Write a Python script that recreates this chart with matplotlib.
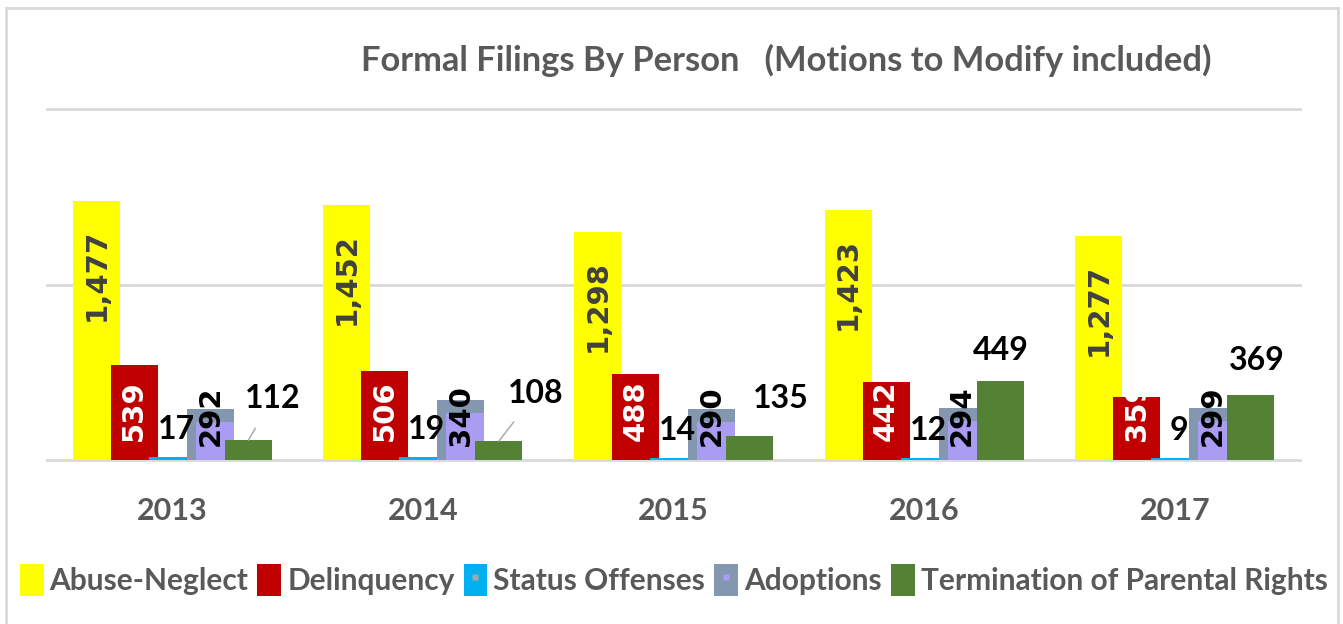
import matplotlib
matplotlib.use("Agg")
import matplotlib.pyplot as plt
from matplotlib.patches import Patch
from matplotlib.lines import Line2D
from matplotlib.legend_handler import HandlerTuple
import numpy as np

years = ["2013", "2014", "2015", "2016", "2017"]
series = ["Abuse-Neglect", "Delinquency", "Status Offenses", "Adoptions",
          "Termination of Parental Rights"]
abuse_neglect = [1477, 1452, 1298, 1423, 1277]
delinquency = [539, 506, 488, 442, 359]
status_offenses = [17, 19, 14, 12, 9]
adoptions = [292, 340, 290, 294, 299]
termination = [112, 108, 135, 449, 369]

colors = ["#FFFF00", "#C00000", "#00B0F0", "#8497B0", "#548235"]
inner_purple = "#A99CF2"
title = "Formal Filings By Person   (Motions to Modify included)"

NARROW = ["Lato", "DejaVu Sans"]
WIDE = ["DejaVu Sans"]
TXT = "#595959"

W, H = 1343, 624
fig = plt.figure(figsize=(W / 100, H / 100), dpi=100)
ax_left, ax_bottom, ax_w, ax_h = 47, 164, 1253, 351
ax = fig.add_axes([ax_left / W, ax_bottom / H, ax_w / W, ax_h / H])
ax.set_xlim(-0.5, 4.5)
ax.set_ylim(0, 2000)
px_per_unit = ax_h / 2000.0
px_per_cat = ax_w / 5.0

for s in ax.spines.values():
    s.set_visible(False)
ax.set_yticks([])
for yv in [0, 1000, 2000]:
    ax.axhline(yv, color="#D9D9D9", lw=2, zorder=0, clip_on=False)

x = np.arange(len(years))
bw = 47 / px_per_cat
step = 38 / px_per_cat
data = [abuse_neglect, delinquency, status_offenses, adoptions, termination]
bars = []
for i, (vals, c) in enumerate(zip(data, colors)):
    b = ax.bar(x + (i - 2) * step, vals, width=bw, color=c, zorder=2 + i,
               linewidth=0)
    bars.append(b)
    if i == 3:
        # lighter inner rectangle seen inside the Adoptions bars
        inset_x = 9 / px_per_cat
        inset_y = 13 / px_per_unit
        ax.bar(x + (i - 2) * step + inset_x / 2, np.array(vals) - inset_y,
               width=bw - inset_x, color=inner_purple, zorder=2 + i + 0.5,
               linewidth=0)

# x labels
ax.set_xticks(x)
ax.set_xticklabels(years, fontsize=22, fontweight="bold", color=TXT,
                   family=NARROW)
ax.tick_params(axis="x", length=0, pad=27)

# Abuse-Neglect labels: rotated, inside near top
for xi, v in zip(x - 2 * step, abuse_neglect):
    ax.annotate(f"{v:,}", xy=(xi, v), xytext=(0, -28), textcoords="offset pixels",
                rotation=90, ha="center", va="top", fontsize=21,
                fontweight="bold", color="#404040", family=WIDE, zorder=20)

# Delinquency labels: rotated white, clipped by bar
for xi, v, rect in zip(x - step, delinquency, bars[1]):
    t = ax.annotate(f"{v:,}", xy=(xi, 0), xytext=(0, 19),
                    textcoords="offset pixels", rotation=90, ha="center",
                    va="bottom", fontsize=21, fontweight="bold", color="white",
                    family=WIDE, zorder=20)
    t.set_clip_path(rect)

# Status offenses labels
for xi, v in zip(x, status_offenses):
    ax.annotate(f"{v:,}", xy=(xi, v), xytext=(4, 13), textcoords="offset pixels",
                ha="center", va="bottom", fontsize=23, fontweight="bold",
                color="black", family=NARROW, zorder=20)

# Adoptions labels
for xi, v in zip(x + step, adoptions):
    ax.annotate(f"{v:,}", xy=(xi, 0), xytext=(0, 14), textcoords="offset pixels",
                rotation=90, ha="center", va="bottom", fontsize=21,
                fontweight="bold", color="black", family=WIDE, zorder=20)

# Termination labels with manual placement offsets (pixels)
term_offsets = [(24, 27), (37, 33), (31, 23), (1, 16), (6, 20)]
term_leader = [True, True, False, False, False]
for xi, v, (dx, dy), lead in zip(x + 2 * step, termination, term_offsets,
                                 term_leader):
    kw = {}
    if lead:
        kw["arrowprops"] = dict(arrowstyle="-", color="#A6A6A6", lw=1,
                                shrinkA=10, shrinkB=0)
    ax.annotate(f"{v:,}", xy=(xi, v), xytext=(dx, dy),
                textcoords="offset pixels", ha="center", va="bottom",
                fontsize=23, fontweight="bold", color="black", family=NARROW,
                zorder=20, **kw)

# Title
fig.text(786 / W, 1 - 60 / H, title, ha="center", va="center", fontsize=24.8,
         fontweight="bold", color=TXT, family=NARROW)

# Legend
handles = [
    Patch(facecolor=colors[0]),
    Patch(facecolor=colors[1]),
    (Patch(facecolor=colors[2]),
     Line2D([], [], marker="s", color="none", markerfacecolor="#A6A6A6",
            markeredgecolor="none", markersize=5)),
    (Patch(facecolor=colors[3]),
     Line2D([], [], marker="s", color="none", markerfacecolor="#A99CF2",
            markeredgecolor="none", markersize=5)),
    Patch(facecolor=colors[4]),
]
leg = fig.legend(handles, series, loc="center", bbox_to_anchor=(673.5 / W, 1 - 580 / H),
                 ncol=5, frameon=False, handlelength=0.8, handleheight=1.3,
                 handletextpad=0.2, columnspacing=0.3, borderpad=0.1,
                 handler_map={tuple: HandlerTuple(ndivide=1)},
                 prop={"family": NARROW, "weight": "bold", "size": 21.5})
for t in leg.get_texts():
    t.set_color(TXT)

# outer border
border_kw = dict(color="#D9D9D9", lw=2, transform=fig.transFigure)
fig.add_artist(Line2D([6 / W, 6 / W], [0, 1 - 8 / H], **border_kw))
fig.add_artist(Line2D([6 / W, 1338 / W], [1 - 8 / H, 1 - 8 / H], **border_kw))
fig.add_artist(Line2D([1338 / W, 1338 / W], [0, 1 - 8 / H], **border_kw))

fig.savefig("out.png", dpi=100, facecolor="white")
